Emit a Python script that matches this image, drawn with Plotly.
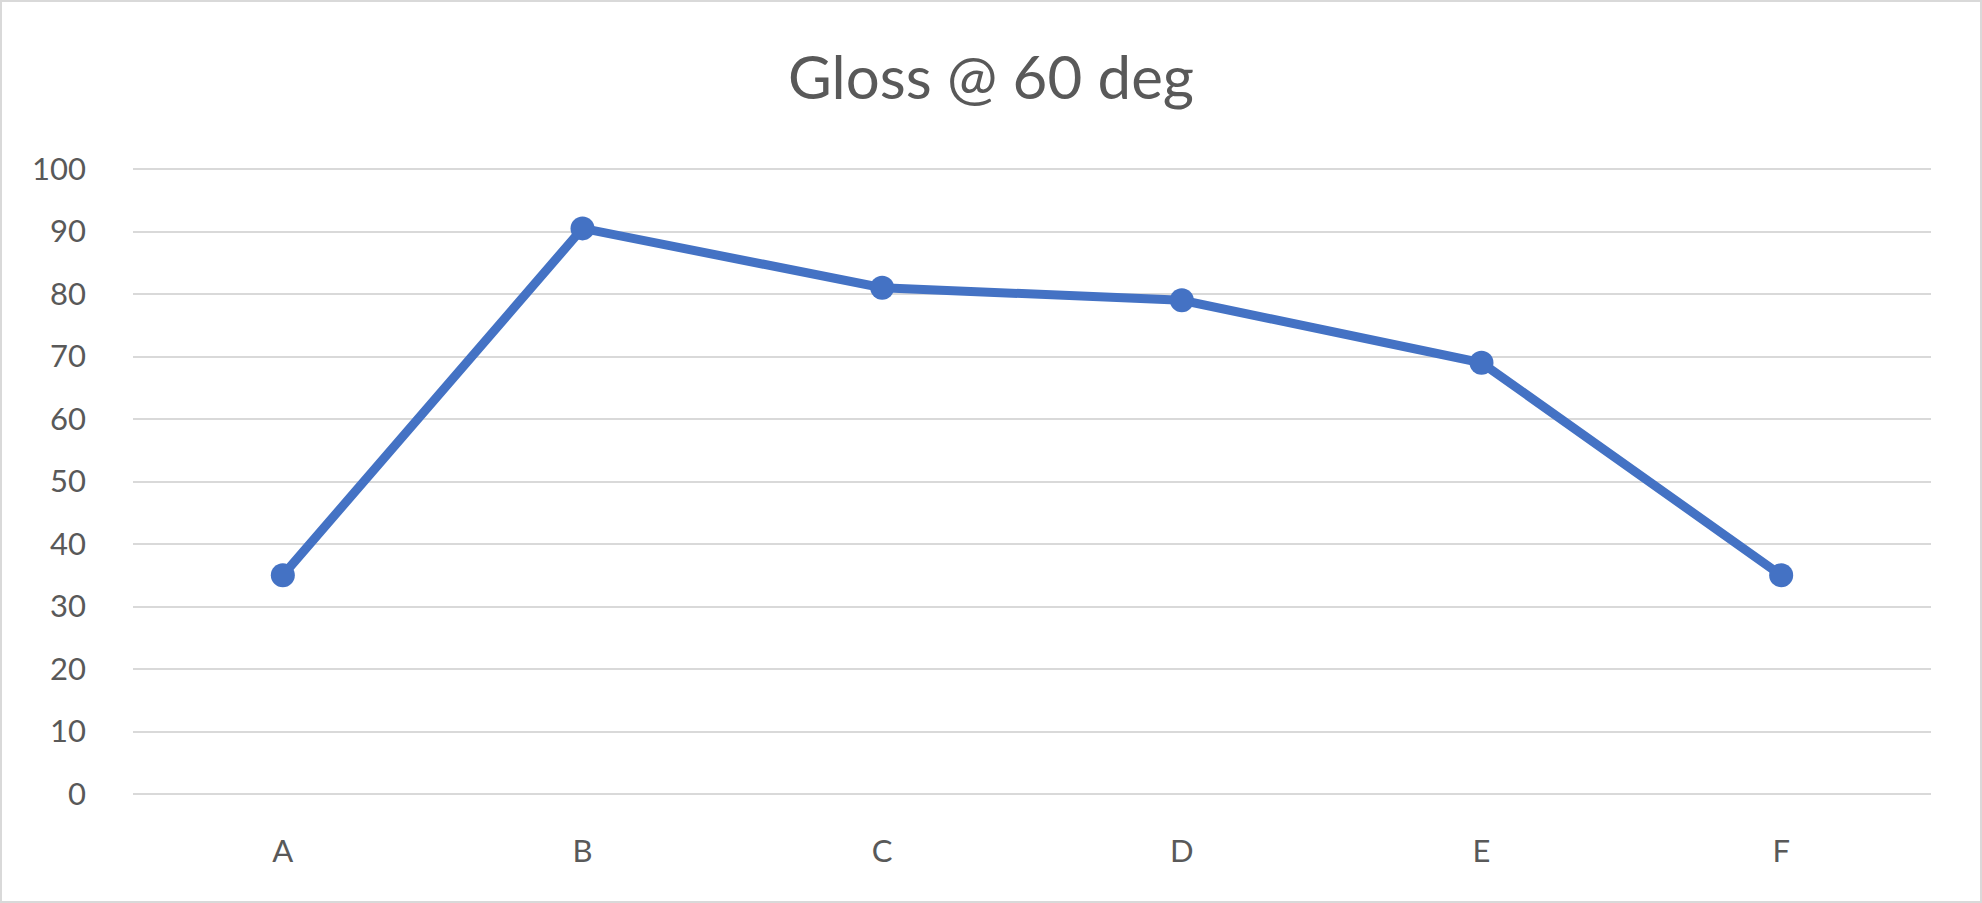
import plotly.graph_objects as go

# Data
samples = ["A", "B", "C", "D", "E", "F"]
gloss_60 = [35, 90.5, 81, 79, 69, 35]
y_ticks = [0, 10, 20, 30, 40, 50, 60, 70, 80, 90, 100]

text_color = "#595959"
grid_color = "#D9D9D9"
line_color = "#4472C4"

fig = go.Figure()
fig.add_trace(go.Scatter(
    x=samples,
    y=gloss_60,
    mode="lines+markers",
    line=dict(color=line_color, width=9),
    marker=dict(color=line_color, size=24),
    showlegend=False,
))

# plot area in pixels (a little padding so the 0 and 100 gridlines are drawn)
W, H = 1982, 903
pad = 3
L, R, T, B = 133, 51, 169 - pad, 109 - pad
pw, ph = W - L - R, H - T - B

fig.update_layout(
    width=W,
    height=H,
    margin=dict(l=L, r=R, t=T, b=B),
    paper_bgcolor="white",
    plot_bgcolor="white",
    font=dict(family="Lato, Open Sans, sans-serif", color=text_color, size=31),
    title=dict(
        text="Gloss @ 60 deg",
        x=0.5,
        xanchor="center",
        y=1 - 78 / H,
        yanchor="middle",
        font=dict(size=60, color=text_color),
    ),
    xaxis=dict(
        range=[-0.5, 5.5],
        showgrid=False,
        zeroline=False,
        showline=False,
        ticks="",
        ticklabelstandoff=36 - pad,
    ),
    yaxis=dict(
        range=[-0.48, 100.48],
        tickvals=y_ticks,
        showgrid=True,
        gridcolor=grid_color,
        gridwidth=2,
        zeroline=False,
        showline=False,
        ticks="",
        ticklabelstandoff=46,
    ),
    shapes=[dict(
        type="rect",
        xref="paper",
        yref="paper",
        x0=(1 - L) / pw,
        x1=(W - 1 - L) / pw,
        y0=(H - B - (H - 1)) / ph,
        y1=(H - B - 1) / ph,
        line=dict(color=grid_color, width=2),
        layer="below",
    )],
)

fig.write_html(
    "out.html",
    config={"displayModeBar": False},
    post_script="document.body.style.margin='0px';",
)
